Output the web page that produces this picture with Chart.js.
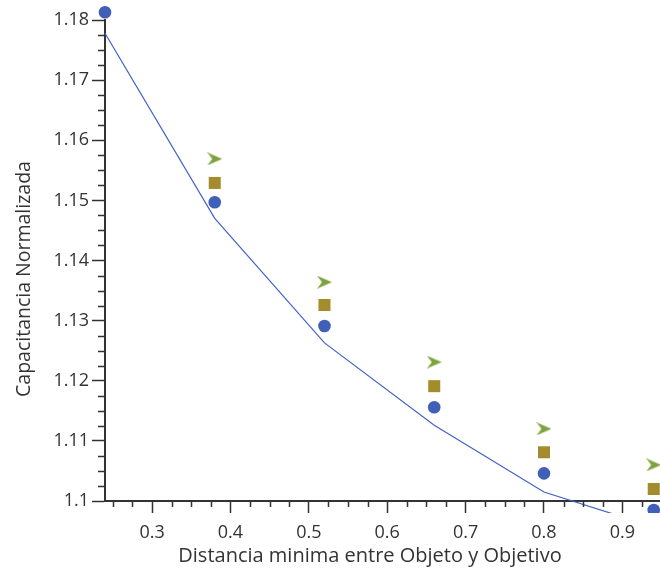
<!DOCTYPE html>
<html>
<head>
<meta charset="utf-8">
<script src="https://cdn.jsdelivr.net/npm/chart.js@4/dist/chart.umd.min.js"></script>
<style>
  html, body { margin: 0; padding: 0; background: #ffffff; }
  #wrap { width: 660px; height: 576px; }
</style>
</head>
<body>
<div id="wrap"><canvas id="chart" width="660" height="576"></canvas></div>
<script>
// Valeurs
const distX = [0.24, 0.38, 0.52, 0.66, 0.80, 0.94];
const curveY = [1.1778, 1.1470, 1.1263, 1.1126, 1.1015, 1.0957];
const circleY = [1.1813, 1.1497, 1.1291, 1.1156, 1.1046, 1.0985];
const squareX = [0.38, 0.52, 0.66, 0.80, 0.94];
const squareY = [1.1529, 1.1326, 1.1191, 1.1081, 1.1020];
const arrowY = [1.1569, 1.1364, 1.1231, 1.1120, 1.1060];

const xTicks = [0.3, 0.4, 0.5, 0.6, 0.7, 0.8, 0.9];
const yTicks = [1.1, 1.11, 1.12, 1.13, 1.14, 1.15, 1.16, 1.17, 1.18];

const xTitle = 'Distancia minima entre Objeto y Objetivo';
const yTitle = 'Capacitancia Normalizada';

const FONT = '"Open Sans", "Noto Sans", sans-serif';
const TEXT = '#333333';

// Marqueur en forme de flèche
function makeArrow(color) {
    const c = document.createElement('canvas');
    c.width = 15;
    c.height = 13;
    const g = c.getContext('2d');
    g.fillStyle = color;
    g.beginPath();
    g.moveTo(0, 0);
    g.lineTo(15, 6.5);
    g.lineTo(0, 13);
    g.lineTo(5, 6.5);
    g.closePath();
    g.fill();
    return c;
}

const toPts = (xs, ys) => xs.map((x, i) => ({ x: x, y: ys[i] }));

// Petites graduations + titres des axes
const axisExtras = {
    id: 'axisExtras',
    afterDraw(chart) {
        const ctx = chart.ctx;
        const xs = chart.scales.x;
        const ys = chart.scales.y;
        const area = chart.chartArea;
        ctx.save();
        ctx.strokeStyle = TEXT;
        ctx.lineWidth = 1.5;
        ctx.beginPath();
        for (let k = 0; k <= 40; k++) {
            const v = 0.225 + k * 0.025;
            if (v < xs.min - 1e-9 || v > xs.max + 1e-9) continue;
            if (Math.abs(v * 10 - Math.round(v * 10)) < 1e-6) continue;
            const px = Math.round(xs.getPixelForValue(v)) + 0.5;
            ctx.moveTo(px, area.bottom);
            ctx.lineTo(px, area.bottom + 6);
        }
        for (let k = 0; k <= 40; k++) {
            const v = 1.1 + k * 0.0025;
            if (v < ys.min - 1e-9 || v > ys.max + 1e-9) continue;
            if (Math.abs(v * 100 - Math.round(v * 100)) < 1e-6) continue;
            const py = Math.round(ys.getPixelForValue(v)) + 0.5;
            ctx.moveTo(area.left, py);
            ctx.lineTo(area.left - 7, py);
        }
        ctx.stroke();

        ctx.fillStyle = TEXT;
        ctx.textAlign = 'center';
        ctx.textBaseline = 'middle';
        ctx.font = '20px ' + FONT;
        ctx.fillText(xTitle, 370, 556);
        ctx.font = '19.5px ' + FONT;
        ctx.translate(24, 279);
        ctx.rotate(-Math.PI / 2);
        ctx.fillText(yTitle, 0, 0);
        ctx.restore();
    }
};

const overflow = { left: 10, top: 20, right: 0, bottom: 12 };

new Chart(document.getElementById('chart'), {
    type: 'scatter',
    data: {
        datasets: [
            {
                label: 'circulos',
                data: toPts(distX, circleY),
                pointStyle: 'circle',
                pointRadius: 6.3,
                pointHoverRadius: 16,
                backgroundColor: '#3f5fb8',
                borderColor: '#3f5fb8',
                borderWidth: 0,
                clip: overflow,
                order: 3
            },
            {
                label: 'cuadrados',
                data: toPts(squareX, squareY),
                pointStyle: 'rect',
                pointRadius: 8.5,
                pointHoverRadius: 16,
                backgroundColor: '#a38c2e',
                borderColor: '#a38c2e',
                borderWidth: 0,
                clip: overflow,
                order: 2
            },
            {
                label: 'flechas',
                data: toPts(squareX, arrowY),
                pointStyle: makeArrow('#7ea33c'),
                pointRadius: 7,
                pointHoverRadius: 16,
                clip: overflow,
                order: 1
            },
            {
                label: 'curva',
                data: toPts(distX, curveY),
                showLine: true,
                borderColor: '#4262c4',
                borderWidth: 1.2,
                pointRadius: 0,
                pointHoverRadius: 0,
                tension: 0,
                clip: overflow,
                order: 0
            }
        ]
    },
    options: {
        responsive: false,
        animation: false,
        events: [],
        layout: { autoPadding: false, padding: { top: 20, right: 0, left: 0, bottom: 0 } },
        plugins: {
            legend: { display: false },
            tooltip: { enabled: false }
        },
        scales: {
            x: {
                type: 'linear',
                min: 0.24,
                max: 0.948,
                afterBuildTicks: (s) => { s.ticks = xTicks.map(v => ({ value: v })); },
                afterFit: (s) => { s.height = 75; },
                border: { display: true, color: TEXT, width: 2 },
                grid: { drawOnChartArea: false, drawTicks: true, tickLength: 12, tickWidth: 1.5, tickColor: TEXT },
                ticks: {
                    padding: 9,
                    color: TEXT,
                    font: { family: FONT, size: 18 },
                    maxRotation: 0,
                    autoSkip: false,
                    callback: (v) => Number(v.toFixed(2)).toString()
                }
            },
            y: {
                type: 'linear',
                min: 1.1,
                max: 1.18,
                afterBuildTicks: (s) => { s.ticks = yTicks.map(v => ({ value: v })); },
                afterFit: (s) => { s.width = 105; },
                border: { display: true, color: TEXT, width: 2 },
                grid: { drawOnChartArea: false, drawTicks: true, tickLength: 13, tickWidth: 1.5, tickColor: TEXT },
                ticks: {
                    padding: 3,
                    color: TEXT,
                    font: { family: FONT, size: 18 },
                    autoSkip: false,
                    callback: (v) => Number(v.toFixed(2)).toString()
                }
            }
        }
    },
    plugins: [axisExtras]
});
</script>
</body>
</html>
